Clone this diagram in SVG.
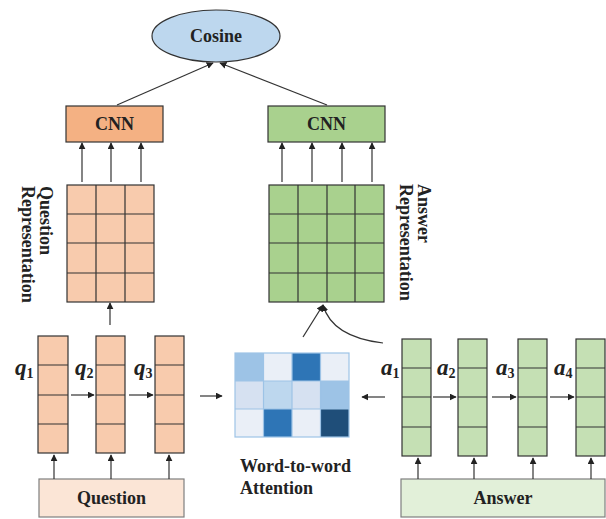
<svg xmlns="http://www.w3.org/2000/svg" width="606" height="519" viewBox="0 0 606 519">
<defs>
<marker id="ah" viewBox="0 0 10 10" refX="9" refY="5" markerWidth="7" markerHeight="7" markerUnits="userSpaceOnUse" orient="auto">
<path d="M0,0 L10,5 L0,10 z" fill="#222"/>
</marker>
</defs>
<style>
.t{font-family:"Liberation Serif",serif;font-weight:bold;font-size:18px;fill:#222}
.m{font-family:"Liberation Serif",serif;font-weight:bold;font-style:italic;font-size:23px;fill:#222}
.s{font-style:normal;font-size:14px}
.c{stroke:#333;stroke-width:1.2;fill:none;marker-end:url(#ah)}
.g{stroke:#333;stroke-width:1.2}
.orq{fill:#F8CBAD}
.grn{fill:#A9D18E}
.lgr{fill:#C5E0B4}
.hm{stroke:#9DC3E6;stroke-width:1.2}
</style>
<rect width="606" height="519" fill="#fff"/>

<g id="cosine">
<ellipse cx="216" cy="36" rx="64" ry="26" fill="#BDD7EE" stroke="#333" stroke-width="1.2"/>
<text class="t" x="216" y="42" text-anchor="middle">Cosine</text>
</g>

<g id="cnn-q">
<rect x="66" y="106" width="97" height="36" fill="#F4B183" class="g"/>
<text class="t" x="114.5" y="130" text-anchor="middle">CNN</text>
</g>
<g id="cnn-a">
<rect x="268" y="106" width="117" height="36" class="g grn"/>
<text class="t" x="326.5" y="130" text-anchor="middle">CNN</text>
</g>

<g id="q-rep">
<rect x="67" y="185" width="87" height="117" class="g orq"/>
<path d="M96,185V302M125,185V302M67,214H154M67,243H154M67,273H154" class="g"/>
<text class="t" transform="translate(40,186) rotate(90)">Question<tspan x="0" dy="18">Representation</tspan></text>
</g>

<g id="a-rep">
<rect x="269" y="185" width="115" height="117" class="g grn"/>
<path d="M298,185V302M327,185V302M355,185V302M269,214H384M269,243H384M269,273H384" class="g"/>
<text class="t" transform="translate(418,184) rotate(90)">Answer<tspan x="0" dy="18">Representation</tspan></text>
</g>

<g id="q-vecs">
<rect x="38" y="336" width="30" height="117" class="g orq"/>
<path d="M38,365H68M38,395H68M38,424H68" class="g"/>
<rect x="96" y="336" width="29" height="117" class="g orq"/>
<path d="M96,365H125M96,395H125M96,424H125" class="g"/>
<rect x="155" y="336" width="29" height="117" class="g orq"/>
<path d="M155,365H184M155,395H184M155,424H184" class="g"/>
<text class="m" x="15" y="375">q<tspan class="s" dy="3">1</tspan></text>
<text class="m" x="75" y="375">q<tspan class="s" dy="3">2</tspan></text>
<text class="m" x="134" y="375">q<tspan class="s" dy="3">3</tspan></text>
</g>

<g id="a-vecs">
<rect x="402" y="339" width="29" height="117" class="g lgr"/>
<path d="M402,368H431M402,397H431M402,427H431" class="g"/>
<rect x="458" y="339" width="29" height="117" class="g lgr"/>
<path d="M458,368H487M458,397H487M458,427H487" class="g"/>
<rect x="518" y="339" width="29" height="117" class="g lgr"/>
<path d="M518,368H547M518,397H547M518,427H547" class="g"/>
<rect x="576" y="339" width="29" height="117" class="g lgr"/>
<path d="M576,368H605M576,397H605M576,427H605" class="g"/>
<text class="m" x="381" y="375">a<tspan class="s" dy="3">1</tspan></text>
<text class="m" x="437" y="375">a<tspan class="s" dy="3">2</tspan></text>
<text class="m" x="496" y="375">a<tspan class="s" dy="3">3</tspan></text>
<text class="m" x="554" y="375">a<tspan class="s" dy="3">4</tspan></text>
</g>

<g id="question">
<rect x="39" y="479" width="145" height="38" fill="#FBE5D6" stroke="#7F7F7F" stroke-width="1.2"/>
<text class="t" x="111.5" y="504" text-anchor="middle">Question</text>
</g>
<g id="answer">
<rect x="401" y="479" width="204" height="38" fill="#E2F0D9" stroke="#7F7F7F" stroke-width="1.2"/>
<text class="t" x="503" y="504" text-anchor="middle">Answer</text>
</g>

<g id="attention">
<rect x="235" y="353" width="28.5" height="28" fill="#9DC3E6"/>
<rect x="263.5" y="353" width="28.5" height="28" fill="#EAEFF7"/>
<rect x="292" y="353" width="28.5" height="28" fill="#2E75B6"/>
<rect x="320.5" y="353" width="28.5" height="28" fill="#EAEFF7"/>
<rect x="235" y="381" width="28.5" height="28" fill="#D6E1F1"/>
<rect x="263.5" y="381" width="28.5" height="28" fill="#BDD7EE"/>
<rect x="292" y="381" width="28.5" height="28" fill="#D6E1F1"/>
<rect x="320.5" y="381" width="28.5" height="28" fill="#9DC3E6"/>
<rect x="235" y="409" width="28.5" height="28" fill="#EAEFF7"/>
<rect x="263.5" y="409" width="28.5" height="28" fill="#2E75B6"/>
<rect x="292" y="409" width="28.5" height="28" fill="#EAEFF7"/>
<rect x="320.5" y="409" width="28.5" height="28" fill="#1F4E79"/>
<rect x="235" y="353" width="114" height="84" fill="none" class="hm"/>
<path d="M263.5,353V437M292,353V437M320.5,353V437M235,381H349M235,409H349" class="hm"/>
<text class="t" x="240" y="472">Word-to-word</text>
<text class="t" x="240" y="494">Attention</text>
</g>

<g id="connectors">
<path class="c" d="M117,105L213,63"/>
<path class="c" d="M327,105L220,63"/>
<path class="c" d="M82,182V143"/>
<path class="c" d="M111,182V143"/>
<path class="c" d="M141,182V143"/>
<path class="c" d="M282,182V143"/>
<path class="c" d="M312,182V143"/>
<path class="c" d="M342,182V143"/>
<path class="c" d="M372,182V143"/>
<path class="c" d="M110,325V303"/>
<path class="c" d="M303,337L323,305"/>
<path class="c" d="M383,343Q332,337 323,305"/>
<path class="c" d="M71,395H94"/>
<path class="c" d="M129,395H153"/>
<path class="c" d="M200,396H222"/>
<path class="c" d="M385,397H362"/>
<path class="c" d="M433,397H456"/>
<path class="c" d="M492,397H516"/>
<path class="c" d="M550,397H574"/>
<path class="c" d="M54,479V455"/>
<path class="c" d="M111,479V455"/>
<path class="c" d="M169,479V455"/>
<path class="c" d="M418,479V458"/>
<path class="c" d="M474,479V458"/>
<path class="c" d="M533,479V458"/>
<path class="c" d="M591,479V458"/>
</g>
</svg>
